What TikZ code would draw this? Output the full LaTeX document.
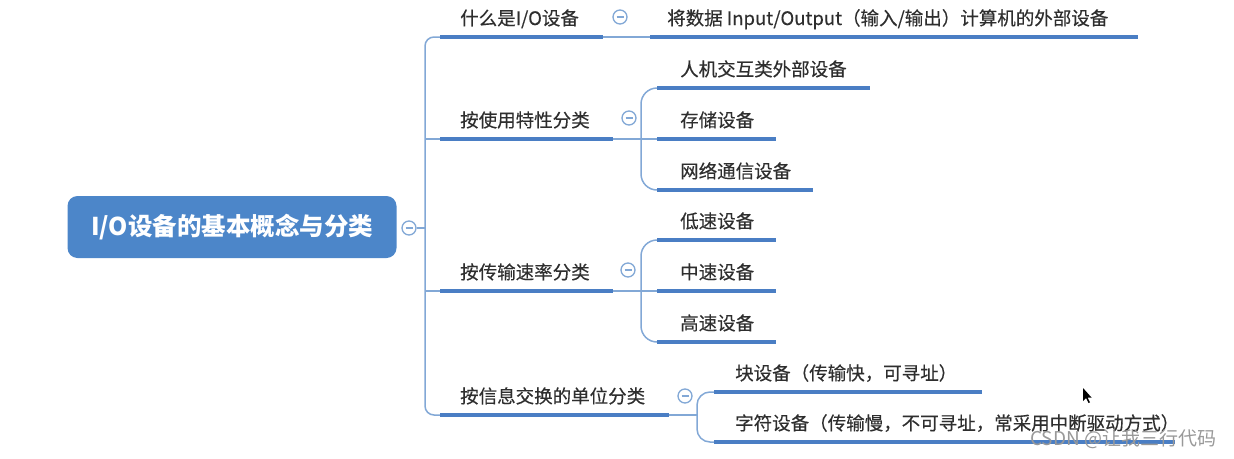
\documentclass[tikz,border=0pt]{standalone}
\usepackage{fontspec}
\setmainfont{Noto Sans CJK SC}
\newfontfamily\lblfont[FakeBold=0.35]{Noto Sans CJK SC}
\usetikzlibrary{calc}
\definecolor{ulblue}{HTML}{4A7EC4}
\definecolor{lnblue}{HTML}{82A8D6}
\definecolor{rootblue}{HTML}{4C86C9}
\definecolor{txtgray}{HTML}{2E2E2E}
\begin{document}
\begin{tikzpicture}[x=1pt,y=-1pt,
 ul/.style={line width=4.5pt, draw=ulblue},
 conn/.style={line width=1.5pt, draw=lnblue, rounded corners=9pt},
 lbl/.style={anchor=base west, inner sep=0pt, text=txtgray, font=\lblfont\fontsize{18.5}{20}\selectfont},
 fold/.style={circle, draw=lnblue, line width=1.3pt, minimum size=14pt, inner sep=0pt, fill=white,
   path picture={\draw[lnblue,line width=1.3pt] ([xshift=-3.5pt]path picture bounding box.center) -- ([xshift=3.5pt]path picture bounding box.center);}},
 wm/.style={anchor=base west, inner sep=0pt, text=black!40, font=\fontsize{19}{21}\selectfont},
]
\useasboundingbox (0,0) rectangle (1234,458);

% root
\node[fill=rootblue, rounded corners=10pt, minimum width=329pt, minimum height=62pt, inner sep=0pt,
  text=white, font=\fontsize{24.5}{26}\selectfont\bfseries] (root) at (232,227) {I/O设备的基本概念与分类};
\node[fold] (f0) at (409,228) {};
\coordinate (trunk) at (425,228);

% level 1 underline ends
\coordinate (t1L) at (440,37);  \coordinate (t1R) at (603,37);
\coordinate (t2L) at (440,139); \coordinate (t2R) at (613,139);
\coordinate (t3L) at (440,291); \coordinate (t3R) at (613,291);
\coordinate (t4L) at (440,415); \coordinate (t4R) at (669,415);

% trunk connectors
\draw[conn] (f0.east) -- (trunk);
\draw[conn] (t1L) -| (trunk) |- (t4L);
\draw[conn] (trunk |- t2L) -- (t2L);
\draw[conn] (trunk |- t3L) -- (t3L);

% level 1 labels
\node[lbl] (n1) at (460,25) {什么是I/O设备};
\node[lbl] (n2) at (460,127) {按使用特性分类};
\node[lbl] (n3) at (460,279) {按传输速率分类};
\node[lbl] (n4) at (460,403) {按信息交换的单位分类};

% fold icons of branches
\node[fold] (f1) at (620,17) {};
\node[fold] (f2) at (629,118) {};
\node[fold] (f3) at (628,270) {};
\node[fold] (f4) at (685,396) {};

% children underline ends
\coordinate (c11L) at (650,37);  \coordinate (c11R) at (1138,37);
\coordinate (c21L) at (657,88);  \coordinate (c21R) at (870,88);
\coordinate (c22L) at (657,139); \coordinate (c22R) at (776,139);
\coordinate (c23L) at (657,190); \coordinate (c23R) at (813,190);
\coordinate (c31L) at (657,240); \coordinate (c31R) at (776,240);
\coordinate (c32L) at (657,291); \coordinate (c32R) at (776,291);
\coordinate (c33L) at (657,342); \coordinate (c33R) at (776,342);
\coordinate (c41L) at (714,392); \coordinate (c41R) at (982,392);
\coordinate (c42L) at (714,442); \coordinate (c42R) at (1175,442);

% junctions
\coordinate (j2) at (641,139);
\coordinate (j3) at (641,291);
\coordinate (j4) at (697,415);

% child connectors
\draw[conn] (t1R) -- (c11L);
\draw[conn] (t2R) -- (c22L);
\draw[conn, rounded corners=16pt] (j2) |- (c21L);
\draw[conn, rounded corners=16pt] (j2) |- (c23L);
\draw[conn] (t3R) -- (c32L);
\draw[conn, rounded corners=16pt] (j3) |- (c31L);
\draw[conn, rounded corners=16pt] (j3) |- (c33L);
\draw[conn] (t4R) -- (j4);
\draw[conn, rounded corners=13pt] (j4) |- (c41L);
\draw[conn, rounded corners=13pt] (j4) |- (c42L);

% underlines
\foreach \a/\b in {t1L/t1R,t2L/t2R,t3L/t3R,t4L/t4R,c11L/c11R,c21L/c21R,c22L/c22R,c23L/c23R,
  c31L/c31R,c32L/c32R,c33L/c33R,c41L/c41R,c42L/c42R}
  \draw[ul] (\a) -- (\b);

% child labels
\node[lbl] (m11) at (667,25) {将数据 Input/Output（输入/输出）计算机的外部设备};
\node[lbl] (m21) at (680,76) {人机交互类外部设备};
\node[lbl] (m22) at (680,127) {存储设备};
\node[lbl] (m23) at (680,178) {网络通信设备};
\node[lbl] (m31) at (680,228) {低速设备};
\node[lbl] (m32) at (680,279) {中速设备};
\node[lbl] (m33) at (680,330) {高速设备};
\node[lbl] (m41) at (735,380) {块设备（传输快，可寻址）};
\node[lbl] (m42) at (735,430) {字符设备（传输慢，不可寻址，常采用中断驱动方式）};

% watermark
\node[wm] (wmk) at (1030,445) {CSDN @让我三行代码};

% cursor
\fill[black] (1083,388) -- (1083,401) -- (1086,398) -- (1088.5,403) -- (1090,402.3) -- (1087.6,397.5) -- (1091.5,397.5) -- cycle;
\end{tikzpicture}
\end{document}
